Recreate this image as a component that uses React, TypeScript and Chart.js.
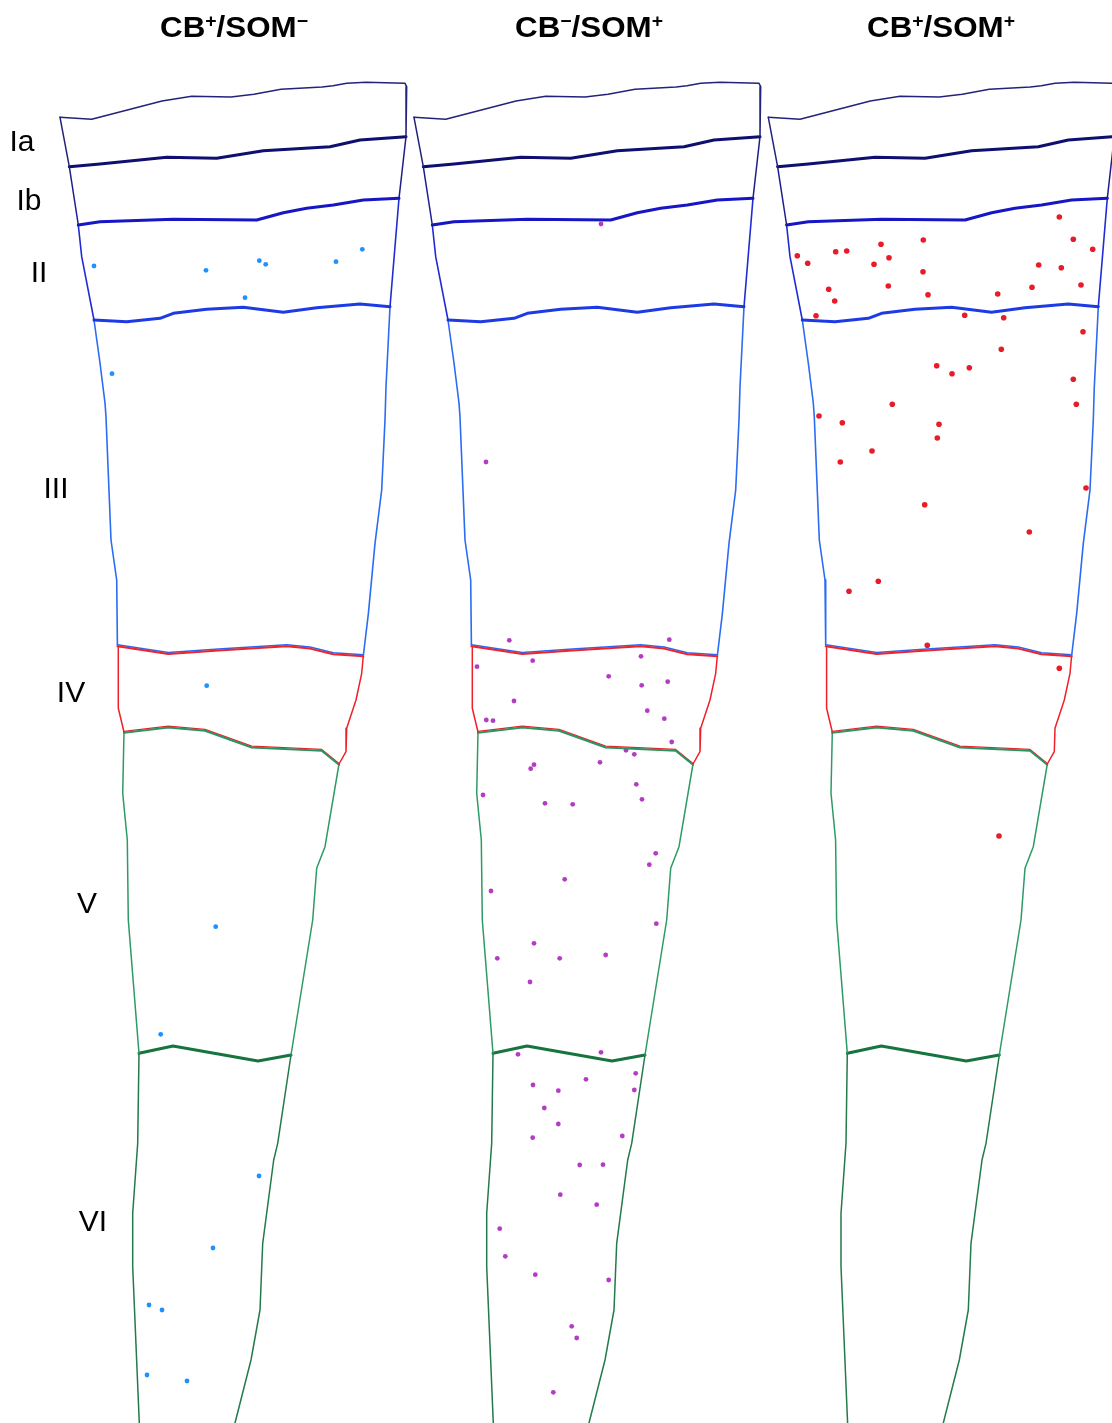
import React, { useEffect, useRef } from "react";
import { Chart, registerables } from "chart.js";

Chart.register(...registerables);

// ---------- DATA ----------
const panelTitles = [
  [["CB", false], ["+", true], ["/SOM", false], ["\u2212", true]],
  [["CB", false], ["\u2212", true], ["/SOM", false], ["+", true]],
  [["CB", false], ["+", true], ["/SOM", false], ["+", true]],
];
const panelShift = [0, 354, 708.3];

const layerLabels = ["Ia", "Ib", "II", "III", "IV", "V", "VI"];

// Outline of one laminar column (first panel, in image units)
const topEdge = [[60, 117.3], [91.7, 119.3], [162, 101], [191.7, 96.3], [231, 97], [254, 94.2], [281, 89.3], [322, 87], [333, 85.7], [346.7, 83.3], [366, 82.3], [405, 83.3], [406.7, 86.7], [406, 136.7]];
const boundIaIb = [[69.3, 166.7], [100, 164], [166.7, 157.3], [216.7, 158.3], [263.3, 150.7], [330, 146.7], [360, 140], [406, 136.7]];
const boundIbII = [[78.3, 225], [100, 221.7], [173.3, 219.3], [256.7, 220], [283.3, 212.7], [306.7, 208.3], [333.3, 205], [363.3, 200], [399, 198.3]];
const boundIIIII = [[94, 320], [126.7, 321.7], [160, 318.3], [173.3, 313.3], [206.7, 309.3], [243.3, 307.3], [283.3, 312.3], [316.7, 307.7], [360, 304], [390, 306.7]];
const boundIIIIV = [[117.4, 645], [168.3, 652.7], [218.4, 649.3], [286.7, 645], [310, 647.3], [333.3, 653], [363.4, 655]];
const boundIVV = [[124, 732], [168.3, 726.7], [205, 730], [251.7, 746.7], [321.7, 750], [339, 764]];
const boundVVI = [[139, 1053.3], [173, 1046], [258, 1061], [291, 1055]];

const leftIa = [[60, 117.3], [69.3, 166.7]];
const leftIb = [[69.3, 166.7], [78.3, 225]];
const rightIb = [[406, 136.7], [399, 198.3]];
const leftII = [[78.3, 225], [81.7, 256.7], [94, 320]];
const rightII = [[399, 198.3], [390, 306.7]];
const leftIII = [[94, 320], [100, 363], [105, 403], [106, 417], [111, 540], [116.7, 580], [117.4, 645]];
const rightIII = [[390, 306.7], [386, 386.7], [385, 420], [381.7, 490], [375, 543.3], [368.4, 613.3], [363.4, 655]];
const leftIV = [[118.3, 646.7], [118.3, 708.3], [124, 732]];
const rightIV = [[363.3, 656], [361.7, 673.3], [356, 700], [346.7, 728.3], [346, 751.7], [339, 764]];
const leftV = [[124, 732], [122.7, 793.3], [127.3, 840], [128.3, 920], [139, 1053.3]];
const rightV = [[339, 764], [325, 846.7], [316.7, 868.3], [312.7, 920], [291, 1055]];
const leftVI = [[139, 1053.3], [137.7, 1143.3], [132.7, 1213.3], [132.7, 1266.7], [139.3, 1423]];
const rightVI = [[291, 1055], [277.7, 1143.3], [273.7, 1160], [262.7, 1243.3], [260, 1310], [251, 1360], [235, 1423]];

// Labelled cells
const cbPosSomNeg = [[94, 266], [206, 270.3], [259.3, 260.7], [265.7, 264.3], [336, 261.7], [362.3, 249.3], [245, 297.7], [112, 373.7], [206.7, 685.7], [215.7, 926.7], [160.7, 1034.3], [259, 1176], [213, 1248], [149, 1305], [162, 1310], [147, 1375], [187, 1381]];
const cbNegSomPos = [[601, 224], [486, 462], [509.3, 640.3], [669.3, 639.7], [532.7, 660.7], [641, 656.3], [477, 666.7], [608.7, 676.3], [641.7, 685.3], [667.7, 681.7], [514, 701], [647.3, 710.7], [486.3, 720], [493, 720.7], [664.3, 718.7], [671.7, 742], [626, 750.3], [634.3, 754.3], [600, 762.3], [534, 764.7], [530.7, 768.7], [636.3, 784.3], [483, 795], [642, 799.3], [545, 803.3], [572.7, 804.3], [655.7, 853.3], [649.3, 864.7], [564.7, 879.3], [491, 891], [656.3, 923.7], [534, 943.3], [497.3, 958.3], [559.7, 958.3], [605.7, 955], [530, 982], [518, 1054.3], [601, 1052.3], [635.7, 1073.3], [586, 1079.3], [533, 1085], [558.3, 1090.7], [634.3, 1090], [544.3, 1108], [558.3, 1124], [532.7, 1137.7], [622.3, 1136], [579.7, 1165], [603, 1164.7], [560.3, 1194.7], [596.7, 1204.7], [499.7, 1228.7], [505.3, 1256.3], [535.3, 1274.7], [608.7, 1280], [571.7, 1326.3], [576.7, 1338], [553.3, 1392.3]];
const cbPosSomPos = [[1059.3, 217], [923.3, 240], [1073.3, 239.3], [1092.7, 249.3], [881, 244.3], [835.7, 251.7], [846.7, 251], [797.3, 255.7], [807.7, 263.3], [889, 257.7], [874, 264.3], [923, 271.7], [1038.7, 265], [1061.3, 267.7], [828.7, 289.3], [888.3, 286], [928, 294.7], [997.7, 294], [1032, 287.3], [1081, 285], [834.7, 301], [816, 315.7], [964.7, 315.3], [1003.7, 317.7], [1083, 331.7], [1001.3, 349.3], [936.7, 365.7], [952, 373.7], [969.3, 367.7], [1073.3, 379.3], [892.3, 404.3], [1076.3, 404.3], [819, 416], [842.3, 422.7], [939, 424.3], [937.3, 438], [872, 451], [840.3, 462], [1086, 488], [924.7, 504.7], [1029.3, 532], [878.3, 581.3], [849, 591.3], [927.3, 645.3], [1059.3, 668.3], [999, 836]];

// ---------- STYLE / BUILD ----------
type Pt = number[];
const outlineParts: [Pt[], string, number, number][] = [
  [topEdge, "#23237a", 1.5, 0],
  [leftIa, "#23237a", 1.5, 0],
  [boundIaIb, "#0f0f70", 3, 0],
  [leftIb, "#1e1e8c", 1.5, 0],
  [rightIb, "#1e1e8c", 1.5, 0],
  [boundIbII, "#1616c4", 3, 0],
  [leftII, "#1f2cd6", 1.6, 0],
  [rightII, "#1f2cd6", 1.6, 0],
  [boundIIIII, "#1d3be4", 3, 0],
  [leftIII, "#2b6cf3", 1.6, 0],
  [rightIII, "#2b6cf3", 1.6, 0],
  [boundIIIIV, "#f0222a", 2, 1.3],
  [boundIIIIV, "#2e66f0", 1.5, -0.3],
  [leftIV, "#ef2028", 1.5, 0],
  [rightIV, "#ef2028", 1.5, 0],
  [boundIVV, "#2a9462", 2, 0.8],
  [boundIVV, "#ef2028", 1.3, -0.6],
  [leftV, "#2e9a66", 1.5, 0],
  [rightV, "#2e9a66", 1.5, 0],
  [boundVVI, "#17743f", 3, 0],
  [leftVI, "#237a4a", 1.5, 0],
  [rightVI, "#237a4a", 1.5, 0],
];

const dotSets: [Pt[], string, number][] = [
  [cbPosSomNeg, "#1e90ff", 2.4],
  [cbNegSomPos, "#b43cc4", 2.4],
  [cbPosSomPos, "#e81c28", 2.8],
];

const FONT = '"Liberation Sans", Arial, Helvetica, sans-serif';

const textPlugin = {
  id: "textPlugin",
  afterDraw(chart: any) {
    const ctx = chart.ctx as CanvasRenderingContext2D;
    const xs = chart.scales.x;
    const ys = chart.scales.y;
    ctx.save();
    ctx.fillStyle = "#000";
    const labelPos = [[22, 143], [29, 202], [39, 274], [56, 490], [71, 694], [87, 905], [93, 1223]];
    ctx.font = `30px ${FONT}`;
    ctx.textAlign = "center";
    ctx.textBaseline = "middle";
    layerLabels.forEach((t, i) => {
      ctx.fillText(t, xs.getPixelForValue(labelPos[i][0]), ys.getPixelForValue(labelPos[i][1]));
    });
    const centers = [234, 589, 941];
    const stretch = 1.08;
    ctx.textAlign = "left";
    ctx.textBaseline = "alphabetic";
    panelTitles.forEach((segs: any[], i) => {
      const fonts = segs.map((s) => (s[1] ? `bold 18px ${FONT}` : `bold 29px ${FONT}`));
      let total = 0;
      const widths = segs.map((s, k) => {
        ctx.font = fonts[k];
        const w = ctx.measureText(s[0]).width;
        total += w;
        return w;
      });
      const cx = xs.getPixelForValue(centers[i]);
      const base = ys.getPixelForValue(36.7);
      ctx.save();
      ctx.translate(cx, 0);
      ctx.scale(stretch, 1);
      let x = -total / 2;
      segs.forEach((s, k) => {
        ctx.font = fonts[k];
        ctx.fillText(s[0], x, s[1] ? base - 10 : base);
        x += widths[k];
      });
      ctx.restore();
    });
    ctx.restore();
  },
};

export default function App() {
  const ref = useRef<HTMLCanvasElement | null>(null);
  useEffect(() => {
    if (!ref.current) return;
    const datasets: any[] = [];
    panelShift.forEach((dx) => {
      outlineParts.forEach(([pts, color, w, dy]) => {
        datasets.push({
          type: "line",
          data: pts.map((p) => ({ x: p[0] + dx, y: p[1] + dy })),
          borderColor: color,
          borderWidth: w,
          pointRadius: 0,
          fill: false,
          tension: 0,
          showLine: true,
          borderJoinStyle: "round",
          borderCapStyle: "round",
        });
      });
    });
    dotSets.forEach(([pts, color, r]) => {
      datasets.push({
        type: "scatter",
        data: pts.map((p) => ({ x: p[0], y: p[1] })),
        backgroundColor: color,
        borderWidth: 0,
        pointRadius: r,
        pointHoverRadius: r,
      });
    });
    const chart = new Chart(ref.current, {
      type: "scatter",
      data: { datasets },
      options: {
        animation: false,
        responsive: false,
        devicePixelRatio: 1,
        events: [],
        layout: { padding: 0, autoPadding: false },
        plugins: { legend: { display: false }, tooltip: { enabled: false } },
        scales: {
          x: { type: "linear", min: 0, max: 1112, display: false },
          y: { type: "linear", min: 0, max: 1423, reverse: true, display: false },
        },
      },
      plugins: [textPlugin],
    } as any);
    return () => chart.destroy();
  }, []);
  return (
    <div style={{ position: "absolute", left: 0, top: 0, width: 1112, height: 1423, background: "#fff" }}>
      <canvas ref={ref} width={1112} height={1423} style={{ display: "block", width: 1112, height: 1423 }} />
    </div>
  );
}
